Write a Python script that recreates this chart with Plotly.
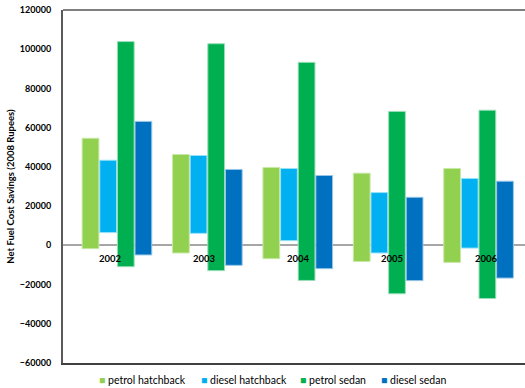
import plotly.graph_objects as go

years = ["2002", "2003", "2004", "2005", "2006"]
series_names = ["petrol hatchback", "diesel hatchback", "petrol sedan", "diesel sedan"]

# Range of net fuel cost savings (2008 Rupees): low and high ends per year
petrol_hatch_low = [-1700, -3900, -6800, -8200, -8700]
petrol_hatch_high = [54600, 46300, 39700, 36800, 39200]
diesel_hatch_low = [6500, 6100, 2400, -3900, -1400]
diesel_hatch_high = [43400, 45800, 39200, 26900, 34100]
petrol_sedan_low = [-10900, -12900, -17900, -24700, -27100]
petrol_sedan_high = [103900, 102800, 93300, 68300, 68900]
diesel_sedan_low = [-4900, -10200, -11900, -18000, -16700]
diesel_sedan_high = [63200, 38700, 35600, 24500, 32700]

fill_colors = ["#92D050", "#00B0F0", "#00B050", "#0070C0"]
edge_colors = ["#C8E8A6", "#99E0F9", "#99DFB9", "#99C6E6"]

lows = [petrol_hatch_low, diesel_hatch_low, petrol_sedan_low, diesel_sedan_low]
highs = [petrol_hatch_high, diesel_hatch_high, petrol_sedan_high, diesel_sedan_high]

fig = go.Figure()
for name, lo, hi, fc, ec in zip(series_names, lows, highs, fill_colors, edge_colors):
    fig.add_trace(go.Bar(
        x=years,
        y=[h - l for h, l in zip(hi, lo)],
        base=lo,
        name=name,
        marker=dict(color=fc, line=dict(color=ec, width=1)),
        showlegend=False,
    ))

# Year labels sit on the zero line, on their own category axis
fig.add_trace(go.Scatter(
    x=years, y=[0] * len(years), xaxis="x2", yaxis="y",
    mode="markers", marker=dict(opacity=0), showlegend=False, hoverinfo="skip",
))

y_min, y_max = -60000, 120000
plot_left, plot_px = 63, 462

# Compact legend row below the plot: colour swatch followed by the series name
legend_left_px = [97, 199, 298, 379]
legend_notes = [
    dict(
        xref="paper", yref="paper",
        x=(px - plot_left) / plot_px, y=-0.048,
        xanchor="left", yanchor="middle", showarrow=False,
        text=f'<span style="color:{fc}">■</span> {name}',
        font=dict(size=10.5, family="Lato", color="#000000"),
    )
    for px, fc, name in zip(legend_left_px, fill_colors, series_names)
]

fig.update_layout(
    width=525, height=388,
    margin=dict(l=plot_left, r=0, t=10, b=25),
    paper_bgcolor="white", plot_bgcolor="white",
    barmode="group", bargap=0.22, bargroupgap=0.05,
    font=dict(family="Lato", color="#000000"),
    showlegend=False,
    xaxis=dict(
        type="category", range=[-0.597, -0.597 + plot_px / 90.4],
        showticklabels=False, ticks="", showgrid=False,
        showline=True, linecolor="#404040", linewidth=2,
    ),
    xaxis2=dict(
        type="category", overlaying="x", anchor="free",
        position=(0 - y_min) / (y_max - y_min),
        range=[-0.5, -0.5 + plot_px / 94.0],
        showline=False, showgrid=False, ticks="",
        tickfont=dict(size=9.5, family="Lato", color="#000000", weight="bold"),
        ticklabelstandoff=6,
    ),
    yaxis=dict(
        range=[y_min, y_max], dtick=20000, tickformat="d", showgrid=False,
        showline=True, linecolor="#5A5A5A", linewidth=2,
        zeroline=True, zerolinecolor="#A6A6A6", zerolinewidth=2,
        ticks="", ticklabelstandoff=8,
        tickfont=dict(size=9, family="Lato", color="#000000", weight="bold"),
        title=dict(text="Net Fuel Cost Savings (2008 Rupees)", standoff=4,
                   font=dict(size=9.5, family="Lato", color="#000000", weight="bold")),
    ),
    annotations=legend_notes,
    shapes=[dict(type="line", xref="paper", yref="paper", x0=0, x1=1, y0=1, y1=1,
                 line=dict(color="#808080", width=2))],
)

fig.write_html("out.html")
